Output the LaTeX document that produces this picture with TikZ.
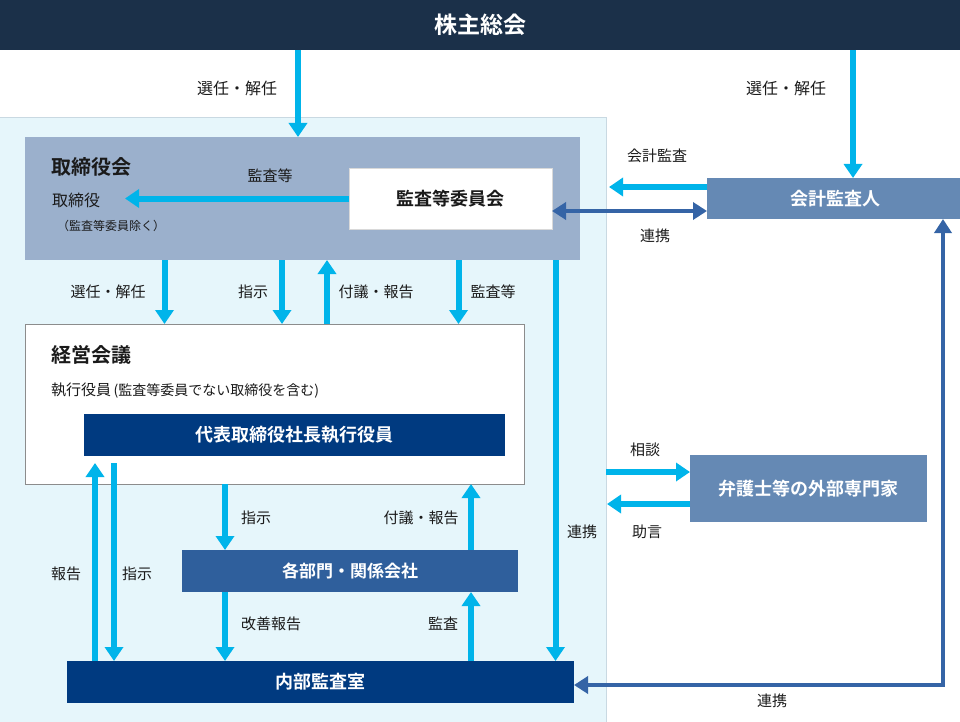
\documentclass[tikz,border=0pt]{standalone}
\usepackage{fontspec}
\setmainfont{Noto Sans CJK JP}[BoldFont={Noto Sans CJK JP Bold}]
\usetikzlibrary{arrows.meta}
\definecolor{topbar}{HTML}{1B3049}
\definecolor{lightbg}{HTML}{E6F6FB}
\definecolor{bgline}{HTML}{C9D9E2}
\definecolor{torfill}{HTML}{9BB0CC}
\definecolor{midblue}{HTML}{6589B4}
\definecolor{navy}{HTML}{003A80}
\definecolor{deptblue}{HTML}{2F5F9C}
\definecolor{cyanarr}{HTML}{00B4EA}
\definecolor{darkarr}{HTML}{3564A6}
\definecolor{txt}{HTML}{1A1A1A}
\definecolor{keieiline}{HTML}{8C8C8C}
\tikzset{
  box/.style={rectangle, inner sep=0pt, outer sep=0pt},
  lbl/.style={text=txt, inner sep=0pt, font=\fontsize{15}{18}\selectfont},
  cyarrow/.style={draw=cyanarr, line width=6pt, -{Triangle[length=14pt,width=18pt]}},
  dkarrow/.style={draw=darkarr, line width=4pt, {Triangle[length=14pt,width=17pt]}-{Triangle[length=14pt,width=17pt]}},
}
\begin{document}
\begin{tikzpicture}[x=1pt,y=-1pt]
\useasboundingbox (0,0) rectangle (960,722);
% light background region
\fill[lightbg] (0,117) rectangle (606,730);
\draw[bgline, line width=0.8pt] (0,117) -- (606,117) -- (606,730);
% top bar
\node[box, fill=topbar, minimum width=960pt, minimum height=50pt, text=white,
  font=\bfseries\fontsize{23}{26}\selectfont] (kabu) at (480,25) {株主総会};
% boxes
\node[box, fill=torfill, minimum width=555pt, minimum height=123pt] (tor) at (302.5,198.5) {};
\node[box, fill=white, draw=white!85!black, line width=0.6pt, minimum width=203pt, minimum height=61pt,
  text=txt, font=\bfseries\fontsize{18}{21}\selectfont] (kansa) at (450.5,198.5) {監査等委員会};
\node[box, fill=midblue, minimum width=256pt, minimum height=41pt, text=white,
  font=\bfseries\fontsize{18}{21}\selectfont] (kaikei) at (835,198.5) {会計監査人};
\node[box, fill=white, draw=keieiline, line width=0.8pt, minimum width=499pt, minimum height=160pt] (keiei) at (274.5,404) {};
\node[box, fill=navy, minimum width=421pt, minimum height=42pt, text=white,
  font=\bfseries\fontsize{18}{21}\selectfont] (daihyo) at (294.5,435) {代表取締役社長執行役員};
\node[box, fill=deptblue, minimum width=336pt, minimum height=42pt, text=white,
  font=\bfseries\fontsize{17}{20}\selectfont] (bumon) at (350,571) {各部門・関係会社};
\node[box, fill=navy, minimum width=507pt, minimum height=42pt, text=white,
  font=\bfseries\fontsize{18}{21}\selectfont] (naibu) at (320.5,682) {内部監査室};
\node[box, fill=midblue, minimum width=237pt, minimum height=67pt, text=white,
  font=\bfseries\fontsize{18}{21}\selectfont] (bengo) at (808.5,488.5) {弁護士等の外部専門家};
% texts inside boxes
\node[lbl, anchor=west, font=\bfseries\fontsize{20}{23}\selectfont] (tortitle) at (51,167) {取締役会};
\node[lbl, anchor=west, font=\fontsize{16}{19}\selectfont] (torsub) at (52,200) {取締役};
\node[lbl, anchor=west, font=\fontsize{12}{14}\selectfont] (torsub2) at (57,226) {（監査等委員除く）};
\node[lbl, anchor=west, font=\bfseries\fontsize{20}{23}\selectfont] (keieititle) at (51,355) {経営会議};
\node[lbl, anchor=west] (keieisub) at (51,391) {執行役員\,{\fontsize{14}{16}\selectfont (監査等委員でない取締役を含む)}};
% helper coordinates
\coordinate (x95) at (95,0);
\coordinate (x114) at (114,0);
\coordinate (x164) at (164.5,0);
\coordinate (x225) at (225,0);
\coordinate (x282) at (282,0);
\coordinate (x298) at (298,0);
\coordinate (x327) at (327,0);
\coordinate (x458) at (458.5,0);
\coordinate (x471) at (471,0);
\coordinate (x556) at (555.5,0);
\coordinate (x853) at (853,0);
\coordinate (x943) at (943,0);
\coordinate (torpt) at (125,198.5);
\coordinate (kaikeiend) at (609,187);
\coordinate (sodanstart) at (606,472);
\coordinate (jogenend) at (607,504);
% cyan arrows
\draw[cyarrow] (kabu.south -| x298) -- (tor.north -| x298);
\draw[cyarrow] (kabu.south -| x853) -- (kaikei.north -| x853);
\draw[cyarrow] (kansa.west) -- (torpt);
\draw[cyarrow] (tor.south -| x164) -- (keiei.north -| x164);
\draw[cyarrow] (tor.south -| x282) -- (keiei.north -| x282);
\draw[cyarrow] (keiei.north -| x327) -- (tor.south -| x327);
\draw[cyarrow] (tor.south -| x458) -- (keiei.north -| x458);
\draw[cyarrow] (tor.south -| x556) -- (naibu.north -| x556);
\draw[cyarrow] (kaikei.west |- kaikeiend) -- (kaikeiend);
\draw[cyarrow] (naibu.north -| x95) -- ([yshift=-7pt]daihyo.south -| x95);
\draw[cyarrow] ([yshift=-7pt]daihyo.south -| x114) -- (naibu.north -| x114);
\draw[cyarrow] (keiei.south -| x225) -- (bumon.north -| x225);
\draw[cyarrow] (bumon.north -| x471) -- (keiei.south -| x471);
\draw[cyarrow] (bumon.south -| x225) -- (naibu.north -| x225);
\draw[cyarrow] (naibu.north -| x471) -- (bumon.south -| x471);
\draw[cyarrow] (sodanstart) -- (bengo.west |- sodanstart);
\draw[cyarrow] (bengo.west |- jogenend) -- (jogenend);
% dark blue arrows
\coordinate (y211) at (0,211);
\coordinate (y685) at (0,685);
\draw[dkarrow] (kansa.east |- y211) -- (kaikei.west |- y211);
\draw[dkarrow, line join=miter] (naibu.east |- y685) -- (x943 |- y685) -- (kaikei.south -| x943);
% labels
\node[lbl, font=\fontsize{16}{19}\selectfont] (l1) at (237,88) {選任・解任};
\node[lbl, font=\fontsize{16}{19}\selectfont] (l2) at (786,88) {選任・解任};
\node[lbl] (l3) at (270,176) {監査等};
\node[lbl] (l4) at (108,292) {選任・解任};
\node[lbl] (l5) at (253,292) {指示};
\node[lbl] (l6) at (376,292) {付議・報告};
\node[lbl] (l7) at (493,292) {監査等};
\node[lbl] (l8) at (657,156) {会計監査};
\node[lbl] (l9) at (655,236) {連携};
\node[lbl] (l10) at (645,450) {相談};
\node[lbl] (l11) at (647,532) {助言};
\node[lbl] (l12) at (582,532) {連携};
\node[lbl] (l13) at (772,701) {連携};
\node[lbl] (l14) at (256,518) {指示};
\node[lbl] (l15) at (421,518) {付議・報告};
\node[lbl] (l16) at (66,574) {報告};
\node[lbl] (l17) at (137,574) {指示};
\node[lbl] (l18) at (271,624) {改善報告};
\node[lbl] (l19) at (443,624) {監査};
\end{tikzpicture}
\end{document}
